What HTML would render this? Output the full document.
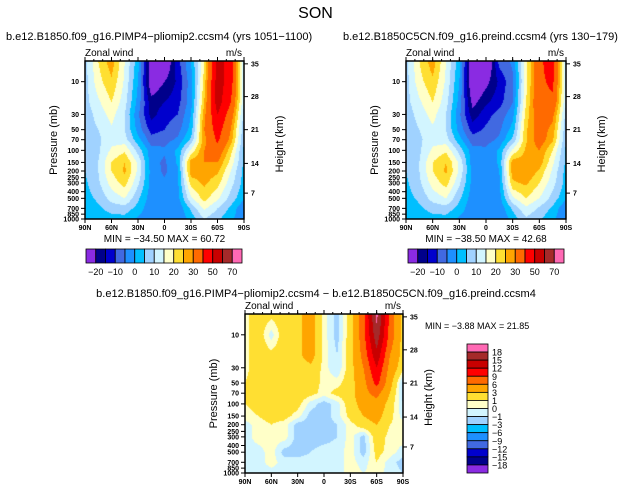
<!DOCTYPE html>
<html><head><meta charset="utf-8">
<style>
body{margin:0;background:#fff;width:631px;height:493px;overflow:hidden;position:relative;font-family:"Liberation Sans",sans-serif}
canvas{position:absolute}
</style></head>
<body>
<svg id="svg" width="631" height="493" style="position:absolute;left:0;top:0"></svg>
<script>
const lats=["90N","75N","60N","45N","30N","15N","0","15S","30S","45S","60S","75S","90S"];
const levels=[5,10,20,30,50,70,100,150,200,300,500,700,1000];
const pTicks=[10,30,50,70,100,150,200,250,300,400,500,700,850,1000];
const latTicks=["90N","60N","30N","0","30S","60S","90S"];
const kmTicks=[[35,5.5],[28,16.5],[21,50],[14,155],[7,420]];
const panel1=[
[8,20,28,15,2,-25,-28,-12,0,20,55,45,10],
[8,18,24,14,0,-25,-20,-14,-2,22,55,45,10],
[8,14,20,12,-2,-18,-15,-12,-2,25,55,40,10],
[7,12,17,10,-4,-17,-12,-10,0,28,50,35,8],
[7,10,14,10,-2,-12,-10,-7,2,30,45,30,6],
[6,9,13,12,2,-8,-7,-4,6,28,42,28,5],
[6,9,16,19,8,-3,-4,1,16,30,36,22,4],
[5,10,20,25,14,-3,-6,1,28,30,30,18,4],
[5,10,20,26,14,-2,-6,-1,28,28,26,15,3],
[4,9,17,22,11,-2,-4,-1,22,26,22,12,3],
[3,6,12,15,6,-3,-3,-2,14,22,16,8,1],
[2,4,7,8,3,-4,-5,-4,6,16,10,4,-5],
[1,2,3,3,-1,-4,-3,-5,2,10,6,1,-4]];
const panel2=[
[8,20,28,15,2,-28,-30,-8,-4,18,38,45,10],
[8,18,24,14,0,-28,-22,-14,-6,18,38,42,10],
[8,14,20,12,-2,-22,-16,-12,-5,20,38,38,10],
[7,12,17,10,-4,-18,-12,-8,-2,22,36,32,8],
[7,10,14,10,-2,-12,-9,-6,2,24,34,28,6],
[6,9,13,12,2,-8,-7,-4,6,24,34,26,5],
[6,9,16,19,8,-3,-4,1,16,26,30,20,4],
[5,10,20,25,14,-3,-5,1,28,28,28,16,4],
[5,10,20,26,14,-2,-5,0,28,30,24,14,3],
[4,9,17,22,11,-2,-4,-1,24,26,20,12,3],
[3,6,12,15,6,-3,-3,-2,14,20,15,8,1],
[2,4,7,8,3,-4,-5,-4,6,14,9,4,-5],
[1,2,3,3,-1,-4,-3,-5,2,9,6,1,-4]];
const diffField=[
[0.5,2,1.5,2,2.5,4,0.5,-1.5,2,8,19,8,2],
[0.5,2,-0.5,2,2.5,4,0.5,-1.5,2,8,17,8,2],
[0.5,2,1.5,2,2.5,4,0.5,-1,2,7,14,6,2],
[0.5,2,2,2,2,2.5,0.5,-1,2,6,12,5,1.5],
[1,2,2,2,2,2,0.5,0.5,2,5,10,4,-1.5],
[1,2,2,2,2,1.5,0.5,1.5,2,5,7,3,-1.5],
[1,1.5,1.5,2,1.5,-0.5,-1.5,-0.5,2,4,5,2,-1],
[0.5,1,1.5,1.5,0.5,-1.5,-1.5,-0.5,1.5,3,4,1.5,-0.5],
[-0.5,0.5,1,0.5,-1.5,-1.5,-1.5,-1,0.5,2,3,1,0.5],
[-0.5,0.5,0.5,0.5,-1.5,-1.5,-1.5,-1,0.5,-1.5,2,0.5,0.5],
[-0.5,-0.5,0.5,-1.5,-1.5,-1,-0.5,-0.5,0.5,-1.5,1.5,0.5,-0.5],
[-0.5,-0.5,0.5,-0.5,-0.5,-0.5,-0.5,-0.5,0.5,-0.5,1,-0.5,-1.5],
[-0.5,-0.5,-0.5,-0.5,-0.5,-0.5,-0.5,-0.5,0.5,0,0.5,-0.5,-1]];
const mainLevels=[-20,-15,-10,-5,0,5,10,15,20,25,30,40,50,60,70];
const mainLabels=["-20","-10","0","10","20","30","50","70"];
const diffLevels=[-18,-15,-12,-9,-6,-3,-1,0,1,3,6,9,12,15,18];
const palette=["#8a2be2","#00008b","#0000cd","#4169e1","#1e90ff","#00bfff","#a0d2ff","#d2f5ff","#ffffc8","#ffdf32","#ffa500","#ff6a00","#ff0000","#c80000","#a52a2a","#ff69b4"];

const NS="http://www.w3.org/2000/svg";
const svg=document.getElementById('svg');
function mk(tag,attrs,parent){const e=document.createElementNS(NS,tag);for(const k in attrs)e.setAttribute(k,attrs[k]);(parent||svg).appendChild(e);return e;}
function txt(x,y,s,size,anchor,parent,rot){const e=mk('text',{x:x,y:y,'font-size':size,'text-anchor':anchor||'start','font-family':'Liberation Sans, sans-serif',fill:'#000'},parent);if(rot)e.setAttribute('transform','rotate(-90 '+x+' '+y+')');e.textContent=s;return e;}
function hex(c){return [parseInt(c.substr(1,2),16),parseInt(c.substr(3,2),16),parseInt(c.substr(5,2),16)];}
const palRGB=palette.map(hex);
function colorIdx(v,lv){let i=0;while(i<lv.length&&v>=lv[i])i++;return i;}
const lpTop=Math.log10(5),lpBot=3;

function drawPanel(name,field,lv,x0,y0,w,h,minmax,hOff){
  const g=mk('g',{},svg);
  
  
  const cv=document.createElement('canvas');
  cv.width=w;cv.height=h;cv.style.left=x0+'px';cv.style.top=y0+'px';
  
  
  document.body.insertBefore(cv,svg);
  const ctx=cv.getContext('2d');const im=ctx.createImageData(w,h);
  const lps=levels.map(p=>Math.log10(p));
  for(let py=0;py<h;py++){
    const lp=lpTop+(py+0.5)/h*(lpBot-lpTop);
    let r=0;while(r<lps.length-2&&lp>lps[r+1])r++;
    let fy=(lp-lps[r])/(lps[r+1]-lps[r]);fy=Math.max(0,Math.min(1,fy));
    for(let px=0;px<w;px++){
      const fx=(px+0.5)/w*(lats.length-1);let c=Math.min(Math.floor(fx),lats.length-2);const tx=fx-c;
      const v=(field[r][c]*(1-tx)+field[r][c+1]*tx)*(1-fy)+(field[r+1][c]*(1-tx)+field[r+1][c+1]*tx)*fy;
      const col=palRGB[colorIdx(v,lv)];const o=(py*w+px)*4;
      im.data[o]=col[0];im.data[o+1]=col[1];im.data[o+2]=col[2];im.data[o+3]=255;}
  }
  ctx.putImageData(im,0,0);
  svg.style.zIndex=1;
  mk('rect',{x:x0,y:y0,width:w,height:h,fill:'none',stroke:'#000','stroke-width':1.5},g);
  const yOf=p=>y0+(Math.log10(p)-lpTop)/(lpBot-lpTop)*h;
  pTicks.forEach(p=>{const y=yOf(p);mk('line',{x1:x0-4,x2:x0,y1:y,y2:y,stroke:'#000'},g);
    const t=txt(x0-6,y+2.5,String(p),7,'end',g);t.setAttribute('font-weight','bold');});
  kmTicks.forEach(k=>{const y=yOf(k[1]);mk('line',{x1:x0+w,x2:x0+w+4,y1:y,y2:y,stroke:'#000'},g);
    const t=txt(x0+w+7,y+2.5,String(k[0]),7,'start',g);t.setAttribute('font-weight','bold');});
  latTicks.forEach((l,i)=>{const x=x0+i*w/(latTicks.length-1);
    mk('line',{x1:x,x2:x,y1:y0+h,y2:y0+h+4,stroke:'#000'},g);
    mk('line',{x1:x,x2:x,y1:y0,y2:y0-4,stroke:'#000'},g);
    const t=txt(x,y0+h+11,l,7,'middle',g);t.setAttribute('font-weight','bold');});
  for(let i=0;i<=18;i++){const x=x0+i*w/18;mk('line',{x1:x,x2:x,y1:y0,y2:y0-2,stroke:'#000'},g);}
  txt(x0,y0-5,'Zonal wind',10,'start',g);
  txt(x0+w-2,y0-5,'m/s',10,'end',g);
  txt(x0-28,y0+h/2,'Pressure (mb)',11,'middle',g,true);
  txt(x0+w+hOff,y0+h/2+4,'Height (km)',11,'middle',g,true);
  if(minmax) txt(x0+w/2,y0+h+23,minmax,10,'middle',g);
}
function hbar(name,x0,y0,w,h){
  const g=mk('g',{},svg);
  
  
  const bw=w/palette.length;
  palette.forEach((c,i)=>mk('rect',{x:x0+i*bw,y:y0,width:bw,height:h,fill:c,stroke:'#000','stroke-width':0.8},g));
  mainLabels.forEach((l,i)=>{txt(x0+(2*i+1)*bw,y0+h+12,l.replace('-','\u2212'),9,'middle',g);});
}
function vbar(name,x0,y0,w,h){
  const g=mk('g',{},svg);
  
  
  const bh=h/palette.length;
  for(let i=0;i<palette.length;i++){const c=palette[palette.length-1-i];
    mk('rect',{x:x0,y:y0+i*bh,width:w,height:bh,fill:c,stroke:'#000','stroke-width':0.8},g);}
  for(let i=0;i<diffLevels.length;i++){const v=diffLevels[diffLevels.length-1-i];
    txt(x0+w+4,y0+(i+1)*bh+3.5,String(v).replace('-','\u2212'),9,'start',g);}
}
const s=txt(315.5,18,'SON',16,'middle');
let t1=txt(6,40,'b.e12.B1850.f09_g16.PIMP4\u2212pliomip2.ccsm4 (yrs 1051\u22121100)',11,'start');

let t2=txt(343,40,'b.e12.B1850C5CN.f09_g16.preind.ccsm4 (yrs 130\u2212179)',11,'start');

let t3=txt(316,297,'b.e12.B1850.f09_g16.PIMP4\u2212pliomip2.ccsm4 \u2212 b.e12.B1850C5CN.f09_g16.preind.ccsm4',11,'middle');

drawPanel('panel1-plot',panel1,mainLevels,85,61,159,158,'MIN = \u221234.50   MAX =   60.72',39);
drawPanel('panel2-plot',panel2,mainLevels,406,61,160,158,'MIN = \u221238.50   MAX =   42.68',39);
drawPanel('diff-plot',diffField,diffLevels,245,314,158,159,null,29);
let mm=txt(425,329,'MIN =   \u22123.88   MAX =  21.85',9,'start');

hbar('panel1-colorbar',86,249,156,14);
hbar('panel2-colorbar',408,249,156,14);
vbar('diff-colorbar',467,344,21,129);
</script>
</body></html>
